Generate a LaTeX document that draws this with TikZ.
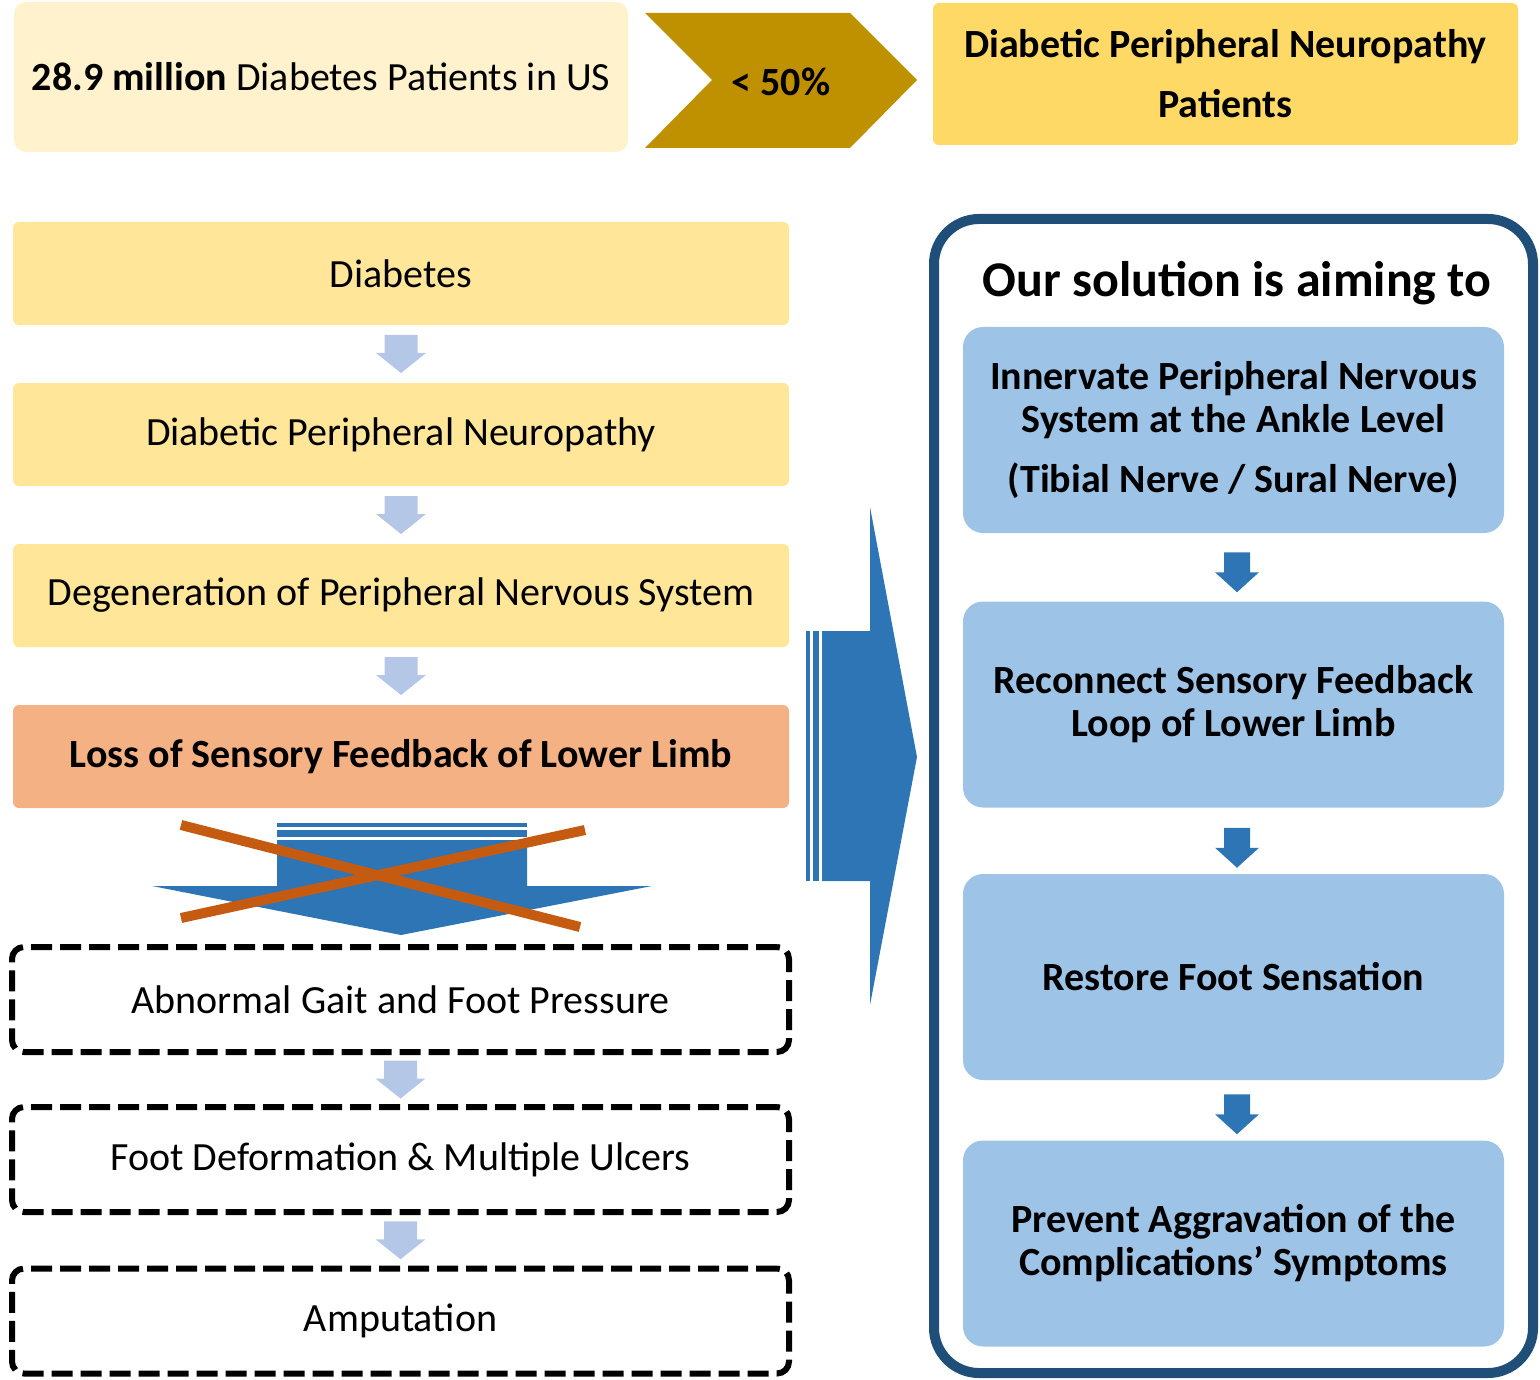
\documentclass[tikz,border=0pt]{standalone}
\usepackage{fontspec}
\setmainfont{Carlito}
\usetikzlibrary{calc}
\definecolor{cream}{HTML}{FFF2CC}
\definecolor{gold}{HTML}{FFD966}
\definecolor{lyellow}{HTML}{FFE699}
\definecolor{salmon}{HTML}{F4B183}
\definecolor{chevc}{HTML}{BF9000}
\definecolor{midblue}{HTML}{2E75B6}
\definecolor{lblue}{HTML}{9DC3E6}
\definecolor{paleblue}{HTML}{B4C7E7}
\definecolor{navy}{HTML}{1F4E79}
\definecolor{xorange}{HTML}{C55A11}
\tikzset{
  txt/.style={font=\fontsize{40}{43}\selectfont},
  btxt/.style={font=\fontsize{40}{43}\selectfont\bfseries},
  ybox/.style={txt, fill=lyellow, rounded corners=6pt, inner sep=0pt, minimum width=776pt, minimum height=103pt, align=center},
  dbox/.style={txt, draw=black, line width=6pt, dash pattern=on 21pt off 8pt, rounded corners=12pt, inner sep=0pt, minimum width=777pt, minimum height=105pt, align=center},
  bbox/.style={btxt, fill=lblue, rounded corners=20pt, inner sep=0pt, minimum width=541pt, minimum height=206pt, align=center},
  pics/paledown/.style={code={\fill[paleblue] (-16.5,-19) -- (16.5,-19) -- (16.5,-1) -- (25,-1) -- (0,19) -- (-25,-1) -- (-16.5,-1) -- cycle;}},
  pics/darkdown/.style={code={\fill[midblue] (-13,-20) -- (13,-20) -- (13,0) -- (22,0) -- (0,20) -- (-22,0) -- (-13,0) -- cycle;}}
}
\begin{document}
\begin{tikzpicture}[x=1pt,y=-1pt]
\useasboundingbox (0,0) rectangle (1540,1380);
% top row
\node[txt, fill=cream, rounded corners=12pt, inner sep=0pt, minimum width=614pt, minimum height=150pt] (us) at (321,77) {\textbf{28.9 million} Diabetes Patients in US};
\fill[chevc] (645,13) -- (850,13) -- (917,80) -- (850,148) -- (645,148) -- (712,80) -- cycle;
\node[btxt] (pct) at (781,82) {< 50\%};
\node[btxt, fill=gold, rounded corners=6pt, inner sep=0pt, minimum width=585pt, minimum height=142pt, align=center] (dpnp) at (1225.5,74) {Diabetic Peripheral Neuropathy\\[17pt]Patients};
% left column
\node[ybox] (d1) at (401,273.5) {Diabetes};
\node[ybox] (d2) at (401,434.5) {Diabetic Peripheral Neuropathy};
\node[ybox] (d3) at (401,595.5) {Degeneration of Peripheral Nervous System};
\node[ybox, fill=salmon, btxt] (d4) at (401,756.5) {Loss of Sensory Feedback of Lower Limb};
\path ($(d1.south)!0.5!(d2.north)$) pic {paledown};
\path ($(d2.south)!0.5!(d3.north)$) pic {paledown};
\path ($(d3.south)!0.5!(d4.north)$) pic {paledown};
% crossed arrow
\fill[midblue] (277,823) rectangle (527,826.5);
\fill[midblue] (277,829.5) rectangle (527,836.5);
\fill[midblue] (277,840) -- (527,840) -- (527,886) -- (652,886) -- (401,935) -- (152,886) -- (277,886) -- cycle;
\draw[xorange, line width=10pt] (181,825) -- (580,927);
\draw[xorange, line width=10pt] (181,918) -- (585,830);
% dashed boxes
\node[dbox] (e1) at (400.5,999.5) {Abnormal Gait and Foot Pressure};
\node[dbox] (e2) at (400.5,1159.5) {Foot Deformation \& Multiple Ulcers};
\node[dbox] (e3) at (400.5,1321) {Amputation};
\path ($(e1.south)!0.5!(e2.north)$) pic {paledown};
\path ($(e2.south)!0.5!(e3.north)$) pic {paledown};
% big right arrow
\fill[midblue] (806,631) rectangle (810,881);
\fill[midblue] (813,631) rectangle (819,881);
\fill[midblue] (822,631) -- (870,631) -- (870,507) -- (917,757) -- (870,1005) -- (870,881) -- (822,881) -- cycle;
% right panel
\node[draw=navy, line width=10pt, rounded corners=45pt, inner sep=0pt, minimum width=599pt, minimum height=1154pt] (panel) at (1233.5,796) {};
\node[font=\fontsize{50}{60}\selectfont\bfseries] (title) at (1237,283) {Our solution is aiming to};
\node[bbox] (s1) at (1233.5,430) {Innervate Peripheral Nervous\\System at the Ankle Level\\[17pt](Tibial Nerve / Sural Nerve)};
\node[bbox] (s2) at (1233.5,704.5) {Reconnect Sensory Feedback\\Loop of Lower Limb};
\node[bbox] (s3) at (1233.5,977) {Restore Foot Sensation};
\node[bbox] (s4) at (1233.5,1243.5) {Prevent Aggravation of the\\Complications’ Symptoms};
\path ($(s1.south)!0.5!(s2.north)+(3.5,5)$) pic {darkdown};
\path ($(s2.south)!0.5!(s3.north)+(3.5,7)$) pic {darkdown};
\path ($(s3.south)!0.5!(s4.north)+(3.5,4)$) pic {darkdown};
\end{tikzpicture}
\end{document}
